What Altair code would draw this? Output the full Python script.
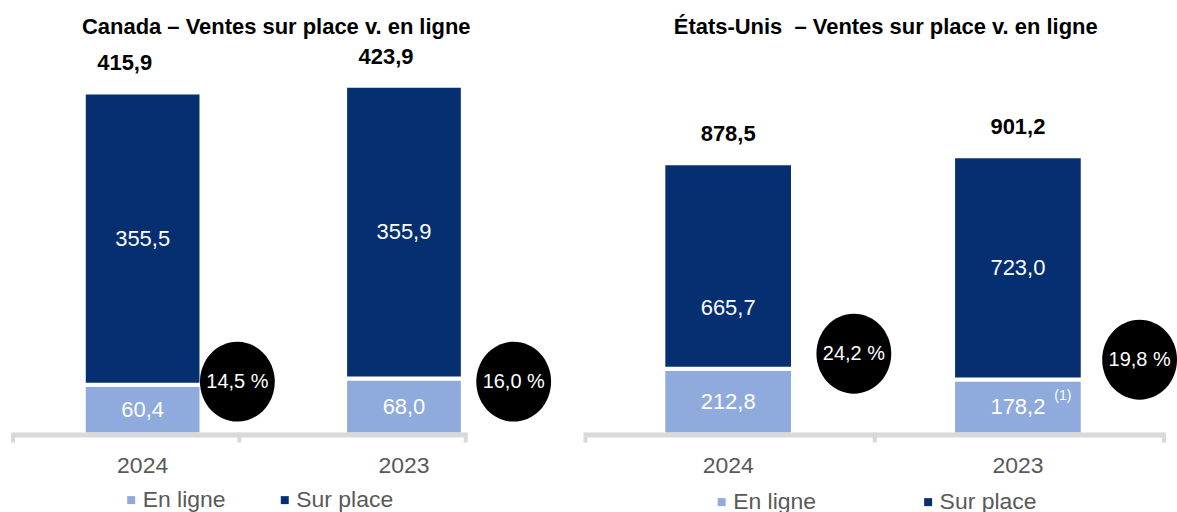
import altair as alt
import pandas as pd

years = ["2024", "2023"]
types = ["En ligne", "Sur place"]

ca_title = "Canada – Ventes sur place v. en ligne"
ca_en_ligne = [60.4, 68.0]
ca_sur_place = [355.5, 355.9]
ca_total = [415.9, 423.9]
ca_pct = ["14,5 %", "16,0 %"]
ca_notes = ["", ""]

us_title = "États-Unis\u00a0 – Ventes sur place v. en ligne"
us_en_ligne = [212.8, 178.2]
us_sur_place = [665.7, 723.0]
us_total = [878.5, 901.2]
us_pct = ["24,2 %", "19,8 %"]
us_notes = ["", "(1)"]

DARK = "#052f70"
LIGHT = "#8faadc"
GRAY = "#d9d9d9"
TXT = "#595959"
FONT = "Liberation Sans"
H = 390
ELLIPSE = "M -1 0 A 1 1.067 0 1 1 1 0 A 1 1.067 0 1 1 -1 0 Z"


def fr(v):
    return f"{v:.1f}".replace(".", ",")


def panel(title, en, sur, tot, pct, notes, width, ymax, pi, po, align,
          circ_dx, circ_y, title_dx, tot_dx, axis_len, legend_x, legend_y,
          col_pad, shifted=None):
    rows = []
    for i, yr in enumerate(years):
        rows.append(dict(year=yr, type="En ligne", order=0, value=en[i],
                         label=fr(en[i]), note=notes[i]))
        rows.append(dict(year=yr, type="Sur place", order=1, value=sur[i],
                         label=fr(sur[i]), note=""))
    df = pd.DataFrame(rows)
    tdf = pd.DataFrame(dict(year=years, total=tot,
                            tlabel=[fr(t) for t in tot], pct=pct))

    xenc = alt.X("year:N", sort=years, title=None,
                 scale=alt.Scale(paddingInner=pi, paddingOuter=po, align=align),
                 axis=alt.Axis(domain=False, ticks=False, grid=False,
                               labelAngle=0, labelFontSize=23,
                               labelColor=TXT, labelFont=FONT,
                               labelPadding=20))
    yscale = alt.Scale(domain=[0, ymax], nice=False, zero=True)

    bars = alt.Chart(df).mark_bar(stroke="white", strokeWidth=4).encode(
        x=xenc,
        y=alt.Y("value:Q", stack="zero", scale=yscale, axis=None, title=None),
        color=alt.Color("type:N", scale=alt.Scale(domain=types, range=[LIGHT, DARK]),
                        legend=alt.Legend(orient="none", legendX=legend_x,
                                          legendY=legend_y, direction="horizontal",
                                          title=None, symbolType="square",
                                          symbolSize=64, symbolStrokeWidth=0,
                                          labelFontSize=23, labelFont=FONT,
                                          labelColor=TXT, columnPadding=col_pad,
                                          labelOffset=0, padding=0)),
        order=alt.Order("order:Q"),
    )

    base_lab = alt.Chart(df).transform_stack(
        stack="value", groupby=["year"], as_=["y0", "y1"],
        sort=[alt.SortField("order")]
    ).transform_calculate(mid="(datum.y0 + datum.y1) / 2")

    layers = [bars]
    if shifted:
        sy, st, sdy = shifted
        cond = f"datum.year == '{sy}' && datum.type == '{st}'"
        layers.append(base_lab.transform_filter(f"!({cond})").mark_text(
            color="white", fontSize=22, font=FONT, baseline="middle").encode(
            x=xenc, y=alt.Y("mid:Q", scale=yscale), text="label:N"))
        layers.append(base_lab.transform_filter(cond).mark_text(
            color="white", fontSize=22, font=FONT, baseline="middle", dy=sdy).encode(
            x=xenc, y=alt.Y("mid:Q", scale=yscale), text="label:N"))
    else:
        layers.append(base_lab.mark_text(
            color="white", fontSize=22, font=FONT, baseline="middle").encode(
            x=xenc, y=alt.Y("mid:Q", scale=yscale), text="label:N"))

    # footnote markers
    layers.append(base_lab.transform_filter("datum.note != ''").mark_text(
        color="white", fontSize=14, font=FONT, baseline="middle", dx=45, dy=-11).encode(
        x=xenc, y=alt.Y("mid:Q", scale=yscale), text="note:N"))

    # totals
    layers.append(alt.Chart(tdf).mark_text(
        color="black", fontSize=22, font=FONT, fontWeight="bold",
        baseline="alphabetic", dy=-22, dx=tot_dx).encode(
        x=xenc, y=alt.Y("total:Q", scale=yscale), text="tlabel:N"))

    # circles
    for i, yr in enumerate(years):
        sub = alt.Chart(tdf).transform_filter(f"datum.year == '{yr}'")
        layers.append(sub.mark_point(shape=ELLIPSE, size=5625, filled=True,
                                     color="black", opacity=1,
                                     xOffset=circ_dx[i]).encode(
            x=xenc, y=alt.value(circ_y[i])))
        layers.append(sub.mark_text(color="white", fontSize=20, font=FONT,
                                    baseline="middle", dx=circ_dx[i]).encode(
            x=xenc, y=alt.value(circ_y[i]), text="pct:N"))

    # axis line and ticks
    one = alt.Chart(tdf.head(1))
    layers.append(one.mark_rule(color=GRAY, strokeWidth=5).encode(
        x=alt.value(2), x2=alt.value(axis_len), y=alt.value(H + 0.5)))
    for tx in [2, (2 + axis_len) / 2, axis_len]:
        layers.append(one.mark_rule(color=GRAY, strokeWidth=4).encode(
            x=alt.value(tx), y=alt.value(H - 2), y2=alt.value(H + 8)))

    return alt.layer(*layers).properties(
        width=width, height=H,
        title=alt.TitleParams(text=title, fontSize=22, font=FONT,
                              fontWeight="bold", color="black",
                              anchor="middle", dx=title_dx, offset=7),
    )


ca = panel(ca_title, ca_en_ligne, ca_sur_place, ca_total, ca_pct, ca_notes,
           width=550, ymax=472.9, pi=0.5496, po=0.3244, align=0.4294,
           circ_dx=[95, 110], circ_y=[337, 337], title_dx=-9, tot_dx=-18,
           axis_len=456, legend_x=109, legend_y=444, col_pad=47,
           )

us = panel(us_title, us_en_ligne, us_sur_place, us_total, us_pct, us_notes,
           width=590, ymax=1259.7, pi=0.5525, po=0.2918, align=0.472,
           circ_dx=[126, 122], circ_y=[309, 315], title_dx=8, tot_dx=0,
           axis_len=582, legend_x=127, legend_y=446, col_pad=100,
           shifted=("2024", "Sur place", 42))

chart = alt.hconcat(ca, us, spacing=23).resolve_scale(
    x="independent", y="independent", color="independent"
).resolve_legend(color="independent").properties(
    padding={"left": 10, "top": 15, "right": 0, "bottom": 0},
    background="white",
).configure_view(stroke=None)

chart.save("out.html", embed_options={"renderer": "svg", "actions": False})
